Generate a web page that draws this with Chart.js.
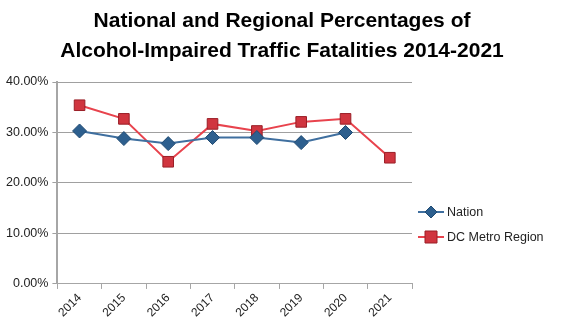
<!DOCTYPE html>
<html>
<head>
<meta charset="utf-8">
<script src="https://cdn.jsdelivr.net/npm/chart.js@4/dist/chart.umd.min.js"></script>
<style>
  html, body { margin: 0; padding: 0; background: #fff; }
  #wrap { width: 562px; height: 327px; position: relative; }
</style>
</head>
<body>
<div id="wrap"><canvas id="fatalChart"></canvas></div>
<script>
// Years and percentages of alcohol-impaired fatalities
const years = ['2014', '2015', '2016', '2017', '2018', '2019', '2020', '2021'];
const nationPct = [30.3, 28.8, 27.8, 29.0, 29.0, 28.0, 30.0, null];
const dcMetroPct = [35.4, 32.7, 24.2, 31.7, 30.3, 32.1, 32.7, 25.0];
const yTicks = [0, 10, 20, 30, 40];
const titleLines = ['National and Regional Percentages of', 'Alcohol-Impaired Traffic Fatalities 2014-2021'];

const FONT = 'Liberation Sans';

// Title centred across the whole canvas, not just the plot
const pageTitle = {
    id: 'pageTitle',
    afterDraw(chart) {
        const ctx = chart.ctx;
        ctx.save();
        ctx.fillStyle = '#000';
        ctx.font = 'bold 21px "' + FONT + '"';
        ctx.textAlign = 'center';
        ctx.textBaseline = 'middle';
        titleLines.forEach((line, i) => {
            ctx.fillText(line, chart.width / 2 + 1, 21 + i * 30);
        });
        ctx.restore();
    }
};

// Legend drawn at the right, with the line running through each marker
const sideLegend = {
    id: 'sideLegend',
    afterDraw(chart) {
        const ctx = chart.ctx;
        const x0 = 418;
        const rows = [212, 237];
        chart.data.datasets.forEach((ds, i) => {
            const y = rows[i];
            ctx.save();
            ctx.strokeStyle = ds.borderColor;
            ctx.lineWidth = 2;
            ctx.beginPath();
            ctx.moveTo(x0, y);
            ctx.lineTo(x0 + 26, y);
            ctx.stroke();
            ctx.fillStyle = ds.pointBackgroundColor;
            ctx.strokeStyle = ds.pointBorderColor;
            ctx.lineWidth = 1;
            const cx = x0 + 13;
            ctx.beginPath();
            if (ds.pointStyle === 'rectRot') {
                ctx.moveTo(cx, y - 6);
                ctx.lineTo(cx + 6, y);
                ctx.lineTo(cx, y + 6);
                ctx.lineTo(cx - 6, y);
            } else {
                ctx.rect(cx - 6, y - 6, 12, 12);
            }
            ctx.closePath();
            ctx.fill();
            ctx.stroke();
            ctx.fillStyle = '#222';
            ctx.font = '12.5px "' + FONT + '"';
            ctx.textBaseline = 'middle';
            ctx.fillText(ds.label, x0 + 29, y + 1);
            ctx.restore();
        });
    }
};

const ctx = document.getElementById('fatalChart').getContext('2d');
new Chart(ctx, {
    type: 'line',
    data: {
        labels: years,
        datasets: [{
            label: 'Nation',
            data: nationPct,
            borderColor: '#3f6f9f',
            borderWidth: 2,
            pointStyle: 'rectRot',
            pointRadius: 7,
            pointBackgroundColor: '#2d5f8e',
            pointBorderColor: '#1f4a72',
            pointBorderWidth: 1,
            tension: 0,
            spanGaps: false
        }, {
            label: 'DC Metro Region',
            data: dcMetroPct,
            borderColor: '#e8434d',
            borderWidth: 2,
            pointStyle: 'rect',
            pointRadius: 7.5,
            pointBackgroundColor: '#d0353f',
            pointBorderColor: '#9a1f27',
            pointBorderWidth: 1,
            tension: 0
        }]
    },
    options: {
        responsive: true,
        maintainAspectRatio: false,
        animation: false,
        layout: { padding: { left: 2, right: 150, top: 82, bottom: 5 } },
        plugins: {
            legend: { display: false },
            tooltip: { enabled: false },
            title: { display: false }
        },
        scales: {
            x: {
                offset: true,
                grid: {
                    display: true,
                    drawOnChartArea: false,
                    offset: true,
                    tickLength: 5,
                    color: '#a6a6a6'
                },
                border: { color: '#a6a6a6', width: 1 },
                ticks: {
                    color: '#222',
                    font: { family: FONT, size: 12 },
                    maxRotation: 45,
                    minRotation: 45,
                    padding: 2
                }
            },
            y: {
                min: 0,
                max: 40,
                afterBuildTicks(scale) {
                    scale.ticks = yTicks.map(v => ({ value: v }));
                },
                grid: {
                    color: '#a0a0a0',
                    tickLength: 5,
                    drawTicks: true
                },
                border: { color: '#a6a6a6', width: 2 },
                ticks: {
                    color: '#222',
                    font: { family: FONT, size: 12.5 },
                    padding: 4,
                    callback: v => v.toFixed(2) + '%'
                }
            }
        }
    },
    plugins: [pageTitle, sideLegend]
});
</script>
</body>
</html>
